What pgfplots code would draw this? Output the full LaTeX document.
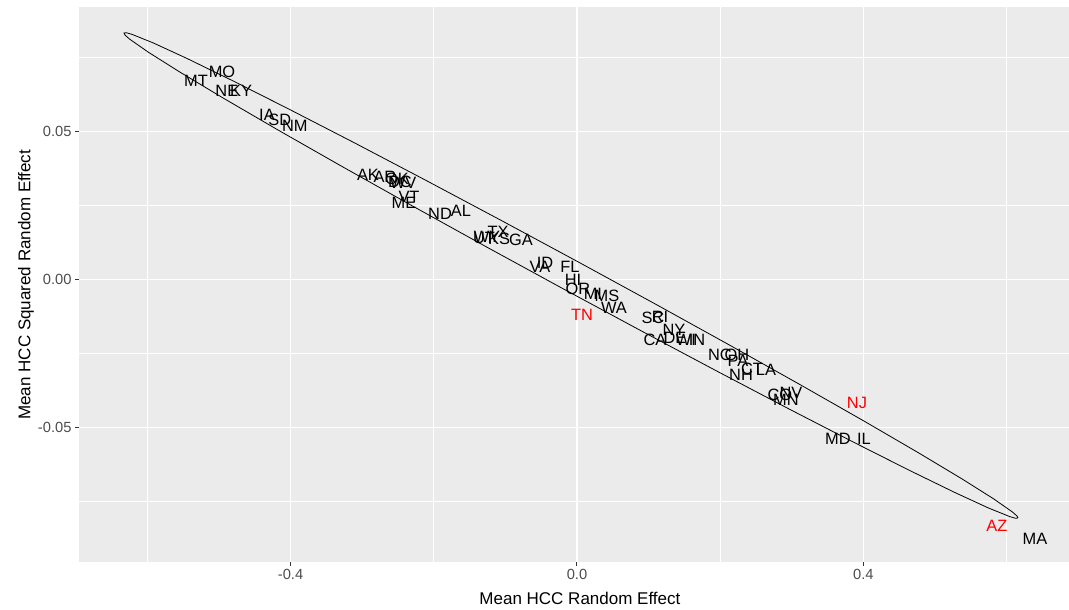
\documentclass[border=0pt]{standalone}
\usepackage{fontspec}
\setmainfont{Liberation Sans}
\usepackage{pgfplots}
\usepackage{pgfplotstable}
\pgfplotsset{compat=1.18}
\definecolor{ggbg}{RGB}{235,235,235}
\definecolor{ticklab}{RGB}{77,77,77}
\definecolor{tickcol}{RGB}{51,51,51}
\definecolor{ggred}{RGB}{255,0,0}

\pgfplotstableread{
x y lab
-0.5320 0.0671 MT
-0.4958 0.0701 MO
-0.4890 0.0637 NE
-0.4690 0.0637 KY
-0.4330 0.0556 IA
-0.4150 0.0539 SD
-0.3940 0.0519 NM
-0.2919 0.0353 AK
-0.2682 0.0346 AR
-0.2514 0.0340 OK
-0.2472 0.0329 DC
-0.2430 0.0326 WV
-0.2346 0.0279 VT
-0.2416 0.0258 ME
-0.1913 0.0221 ND
-0.1620 0.0231 AL
-0.1299 0.0140 UT
-0.1257 0.0144 WY
-0.1103 0.0160 TX
-0.1089 0.0137 KS
-0.0782 0.0133 GA
-0.0517 0.0042 VA
-0.0447 0.0056 ID
-0.0098 0.0042 FL
-0.0056 -0.0002 HI
0.0014 -0.0032 OR
0.0223 -0.0049 MI
0.0419 -0.0056 MS
0.0517 -0.0096 WA
0.1061 -0.0130 SC
0.1159 -0.0127 RI
0.1355 -0.0171 NY
0.1089 -0.0204 CA
0.1369 -0.0198 DE
0.1522 -0.0204 WI
0.1676 -0.0204 IN
0.1997 -0.0255 NC
0.2235 -0.0255 OH
0.2249 -0.0275 PA
0.2444 -0.0302 CT
0.2640 -0.0306 LA
0.2291 -0.0323 NH
0.2835 -0.0390 CO
0.2989 -0.0383 NV
0.2919 -0.0407 MN
0.3645 -0.0539 MD
0.4008 -0.0539 IL
0.6397 -0.0877 MA
}\blackdata

\pgfplotstableread{
x y lab
0.0070 -0.0120 TN
0.3911 -0.0417 NJ
0.5866 -0.0833 AZ
}\reddata

\begin{document}
\begin{tikzpicture}
\useasboundingbox (-79pt,-48pt) rectangle (990pt,562pt);
\begin{axis}[
  at={(0,0)}, anchor=south west,
  scale only axis, width=990pt, height=554.5pt,
  xmin=-0.6955, xmax=0.6872, ymin=-0.09544, ymax=0.0919,
  axis background/.style={fill=ggbg},
  axis line style={draw=none},
  xtick={-0.4,0,0.4}, xticklabels={-0.4,0.0,0.4},
  ytick={-0.05,0,0.05}, yticklabels={-0.05,0.00,0.05},
  minor xtick={-0.6,-0.2,0.2,0.6},
  minor ytick={-0.075,-0.025,0.025,0.075},
  grid=both,
  major grid style={white, line width=1.1pt},
  minor grid style={white, line width=0.55pt},
  tick align=outside, xtick pos=bottom, ytick pos=left,
  major tick length=4pt, minor tick length=0pt,
  tick style={tickcol, line width=1pt},
  ticklabel style={font=\fontsize{14.7}{16}\selectfont, text=ticklab},
  xlabel={Mean HCC Random Effect},
  ylabel={Mean HCC Squared Random Effect},
  every axis x label/.style={at={(axis description cs:0.506,-0.0649)}, anchor=center, font=\fontsize{17}{19}\selectfont, text=black},
  every axis y label/.style={at={(axis description cs:-0.0535,0.5)}, rotate=90, anchor=center, font=\fontsize{17}{19}\selectfont, text=black},
]
\addplot[black, line width=0.8pt] coordinates {
(0.6159,-0.08058) (0.61266,-0.08067) (0.60465,-0.08012) (0.57476,-0.07720)
(0.52713,-0.07189) (0.46323,-0.06435) (0.38506,-0.05481) (0.29488,-0.04358)
(0.19549,-0.03096) (0.08990,-0.01737) (-0.01864,-0.00322) (-0.12686,0.01107)
(-0.23153,0.02508) (-0.32942,0.03836) (-0.41754,0.05051) (-0.49319,0.06117)
(-0.55415,0.07001) (-0.59854,0.07678) (-0.62497,0.08124) (-0.63120,0.08257)
(-0.63268,0.08328) (-0.62942,0.08337) (-0.62141,0.08282) (-0.59152,0.07990)
(-0.54389,0.07459) (-0.47999,0.06705) (-0.40182,0.05751) (-0.31164,0.04628)
(-0.21225,0.03366) (-0.10666,0.02007) (0.00188,0.00592) (0.11010,-0.00837)
(0.21477,-0.02238) (0.31266,-0.03566) (0.40078,-0.04781) (0.47643,-0.05847)
(0.53739,-0.06731) (0.58178,-0.07408) (0.60821,-0.07854) (0.61444,-0.07987)
(0.6159,-0.08058)
};
\addplot[only marks, mark=none, point meta=explicit symbolic,
  nodes near coords={\pgfplotspointmeta},
  nodes near coords style={anchor=center, inner sep=0pt, text=black, font=\fontsize{16.4}{18}\selectfont}]
  table[x=x, y=y, meta=lab] {\blackdata};
\addplot[only marks, mark=none, point meta=explicit symbolic,
  nodes near coords={\pgfplotspointmeta},
  nodes near coords style={anchor=center, inner sep=0pt, text=ggred, font=\fontsize{16.4}{18}\selectfont}]
  table[x=x, y=y, meta=lab] {\reddata};
\end{axis}
\end{tikzpicture}
\end{document}
